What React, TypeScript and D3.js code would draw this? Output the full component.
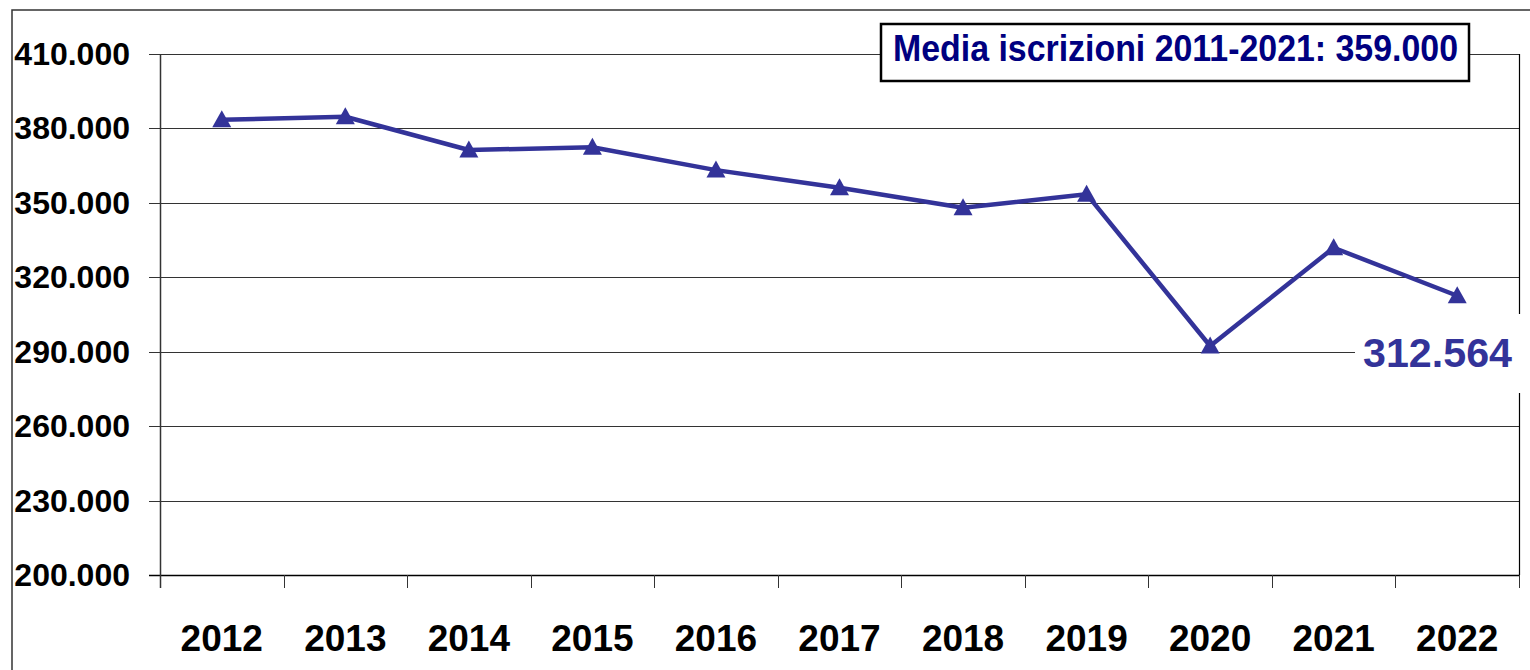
import React from "react";
import * as d3 from "d3";

const years = ["2012", "2013", "2014", "2015", "2016", "2017", "2018", "2019", "2020", "2021", "2022"];
const iscrizioni = [383500, 384700, 371300, 372400, 363200, 356100, 348000, 353500, 292300, 331900, 312564];
const yTicks = [200000, 230000, 260000, 290000, 320000, 350000, 380000, 410000];
const yTickLabels = ["200.000", "230.000", "260.000", "290.000", "320.000", "350.000", "380.000", "410.000"];
const legendText = "Media iscrizioni 2011-2021: 359.000";
const lastLabel = "312.564";

const W = 1530;
const H = 670;
const plot = { left: 160, right: 1519, top: 54, bottom: 575 };
const LINE = "#333399";
const FONT = "'Liberation Sans', Arial, Helvetica, sans-serif";

export default function App() {
  const x = d3.scaleBand<string>().domain(years).range([plot.left, plot.right]).paddingInner(0).paddingOuter(0);
  const y = d3.scaleLinear().domain([200000, 410000]).range([plot.bottom, plot.top]);
  const cx = (yr: string) => (x(yr) as number) + x.bandwidth() / 2;
  const pts: [number, number][] = years.map((yr, i) => [cx(yr), y(iscrizioni[i])]);
  const lineGen = d3.line<[number, number]>().x((d) => d[0]).y((d) => d[1]);
  const boundaries = [...years.map((yr) => x(yr) as number), plot.right];

  const box = { x: 881, y: 24, w: 588, h: 57 };
  const lab = { x: 1355, y: 314, w: 175, h: 79 };

  return (
    <svg
      width={W}
      height={H}
      viewBox={`0 0 ${W} ${H}`}
      style={{ position: "absolute", left: 0, top: 0, background: "#fff" }}
      fontFamily={FONT}
    >
      <rect x={0} y={0} width={W} height={H} fill="#fff" />
      {/* outer frame */}
      <path d={`M12,${H + 5} L12,10 L${W + 5},10`} fill="none" stroke="#333" strokeWidth={1.5} />

      {/* gridlines */}
      {yTicks.map((t) => (
        <line
          key={t}
          x1={149}
          x2={t === 200000 ? plot.right : plot.right}
          y1={Math.round(y(t)) + 0.5}
          y2={Math.round(y(t)) + 0.5}
          stroke={t === 200000 ? "#000" : "#333"}
          strokeWidth={t === 200000 ? 1.5 : 1}
        />
      ))}
      {/* y axis */}
      <line x1={plot.left + 0.5} x2={plot.left + 0.5} y1={plot.top} y2={588} stroke="#333" strokeWidth={1.5} />
      {/* right border */}
      <line x1={plot.right + 0.5} x2={plot.right + 0.5} y1={plot.top} y2={plot.bottom} stroke="#000" strokeWidth={1.2} />
      {/* x ticks */}
      {boundaries.map((b, i) => (
        <line key={i} x1={Math.round(b) + 0.5} x2={Math.round(b) + 0.5} y1={plot.bottom} y2={588} stroke="#333" strokeWidth={1} />
      ))}

      {/* y labels */}
      {yTicks.map((t, i) => (
        <text key={t} x={130} y={y(t) + 11} textAnchor="end" fontSize={32} fontWeight="bold" fill="#000">
          {yTickLabels[i]}
        </text>
      ))}

      {/* x labels */}
      {years.map((yr) => (
        <text key={yr} x={cx(yr)} y={651} textAnchor="middle" fontSize={37} fontWeight="bold" fill="#000">
          {yr}
        </text>
      ))}

      {/* series */}
      <path d={lineGen(pts) || ""} fill="none" stroke={LINE} strokeWidth={4.5} strokeLinejoin="round" />
      {pts.map(([px, py], i) => (
        <path key={i} d={`M${px},${py - 9.5} L${px + 9.5},${py + 7.5} L${px - 9.5},${py + 7.5} Z`} fill={LINE} />
      ))}

      {/* label for last value */}
      <rect x={lab.x} y={lab.y} width={lab.w} height={lab.h} fill="#fff" />
      <text x={1363} y={367} fontSize={41.5} fontWeight="bold" fill={LINE} textLength={149} lengthAdjust="spacingAndGlyphs">
        {lastLabel}
      </text>

      {/* legend box */}
      <rect x={box.x} y={box.y} width={box.w} height={box.h} fill="#fff" stroke="#000" strokeWidth={2.5} />
      <text x={893} y={61} fontSize={36} fontWeight="bold" fill="#000080" textLength={565} lengthAdjust="spacingAndGlyphs">
        {legendText}
      </text>
    </svg>
  );
}
